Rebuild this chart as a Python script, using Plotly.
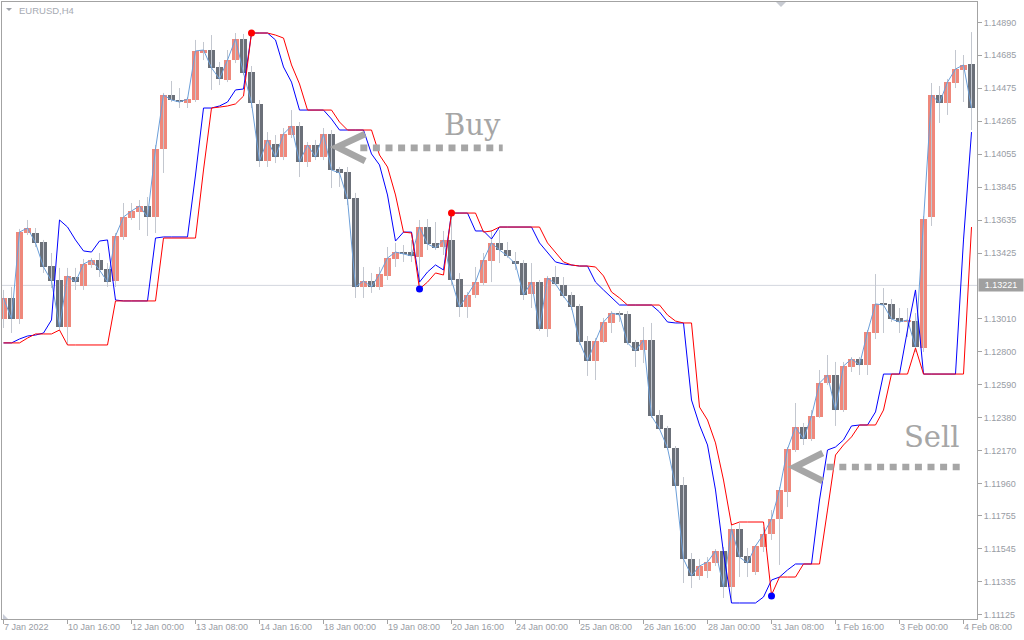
import plotly.graph_objects as go

# ---- EURUSD H4 data ----
TIME_LABELS = ["7 Jan 2022", "10 Jan 16:00", "12 Jan 00:00", "13 Jan 08:00",
               "14 Jan 16:00", "18 Jan 00:00", "19 Jan 08:00", "20 Jan 16:00",
               "24 Jan 00:00", "25 Jan 08:00", "26 Jan 16:00", "28 Jan 00:00",
               "31 Jan 08:00", "1 Feb 16:00", "3 Feb 00:00", "4 Feb 08:00"]
LABEL_BARS = [0, 8, 16, 24, 32, 40, 48, 56, 64, 72, 80, 88, 96, 104, 112, 120]

OPEN = [
    1.13007, 1.13141, 1.13007, 1.13554, 1.13554, 1.13497, 1.13344, 1.13255, 1.12956, 1.13274,
    1.13217, 1.13351, 1.13382, 1.13325, 1.13249, 1.13529, 1.13650, 1.13688, 1.13726, 1.13656,
    1.14088, 1.14432, 1.14400, 1.14381, 1.14400, 1.14699, 1.14718, 1.14610, 1.14527, 1.14654,
    1.14788, 1.14578, 1.14375, 1.14012, 1.14120, 1.14037, 1.14177, 1.14235, 1.14006, 1.14114,
    1.14037, 1.14184, 1.13961, 1.13942, 1.13777, 1.13211, 1.13249, 1.13211, 1.13281, 1.13389,
    1.13433, 1.13433, 1.13401, 1.13592, 1.13491, 1.13465, 1.13510, 1.13262, 1.13083, 1.13160,
    1.13236, 1.13376, 1.13491, 1.13446, 1.13376, 1.13363, 1.13166, 1.13242, 1.12944, 1.13274,
    1.13223, 1.13160, 1.13090, 1.12867, 1.12740, 1.12861, 1.12982, 1.13045, 1.13039, 1.12861,
    1.12810, 1.12874, 1.12397, 1.12314, 1.12187, 1.11951, 1.11481, 1.11373, 1.11404, 1.11455,
    1.11532, 1.11303, 1.11672, 1.11500, 1.11398, 1.11557, 1.11640, 1.11735, 1.11907, 1.12174,
    1.12320, 1.12244, 1.12384, 1.12600, 1.12651, 1.12428, 1.12702, 1.12753, 1.12715, 1.12918,
    1.13109, 1.13103, 1.13014, 1.12988, 1.12994, 1.12823, 1.13656, 1.14432, 1.14381, 1.14508,
    1.14591, 1.14629]
HIGH = [
    1.13192, 1.13211, 1.13580, 1.13637, 1.13586, 1.13510, 1.13427, 1.13332, 1.13332, 1.13332,
    1.13389, 1.13395, 1.13427, 1.13363, 1.13554, 1.13745, 1.13745, 1.13764, 1.13783, 1.14114,
    1.14445, 1.14521, 1.14476, 1.14419, 1.14782, 1.14769, 1.14813, 1.14642, 1.14718, 1.14826,
    1.14820, 1.14616, 1.14400, 1.14196, 1.14177, 1.14222, 1.14336, 1.14260, 1.14133, 1.14146,
    1.14222, 1.14209, 1.13974, 1.13974, 1.13809, 1.13338, 1.13300, 1.13338, 1.13465, 1.13491,
    1.13478, 1.13510, 1.13637, 1.13643, 1.13624, 1.13567, 1.13681, 1.13300, 1.13179, 1.13338,
    1.13427, 1.13573, 1.13573, 1.13497, 1.13433, 1.13382, 1.13363, 1.13255, 1.13281, 1.13344,
    1.13274, 1.13179, 1.13103, 1.12899, 1.12886, 1.13014, 1.13058, 1.13058, 1.13058, 1.12874,
    1.12956, 1.12982, 1.12428, 1.12327, 1.12199, 1.12002, 1.11519, 1.11481, 1.11493, 1.11544,
    1.11557, 1.11710, 1.11710, 1.11551, 1.11570, 1.11684, 1.11792, 1.11939, 1.12193, 1.12473,
    1.12346, 1.12428, 1.12683, 1.12778, 1.12734, 1.12734, 1.12765, 1.12765, 1.12937, 1.13293,
    1.13204, 1.13134, 1.13077, 1.13077, 1.13045, 1.13662, 1.14508, 1.14489, 1.14534, 1.14718,
    1.14686, 1.14832]
LOW = [
    1.12950, 1.12918, 1.12975, 1.13541, 1.13465, 1.13300, 1.13204, 1.12937, 1.12842, 1.13192,
    1.13192, 1.13332, 1.13274, 1.13211, 1.13211, 1.13510, 1.13637, 1.13573, 1.13535, 1.13554,
    1.13936, 1.14387, 1.14349, 1.14349, 1.14387, 1.14654, 1.14464, 1.14495, 1.14514, 1.14635,
    1.14559, 1.14349, 1.13974, 1.13974, 1.13999, 1.14018, 1.14158, 1.13910, 1.13974, 1.14018,
    1.14018, 1.13840, 1.13847, 1.13732, 1.13141, 1.13141, 1.13173, 1.13192, 1.13255, 1.13338,
    1.13370, 1.13370, 1.13198, 1.13446, 1.13446, 1.13414, 1.13223, 1.13020, 1.13014, 1.13141,
    1.13223, 1.13242, 1.13363, 1.13395, 1.13319, 1.13128, 1.13077, 1.12931, 1.12893, 1.13223,
    1.13141, 1.13064, 1.12842, 1.12645, 1.12619, 1.12855, 1.12918, 1.12988, 1.12842, 1.12702,
    1.12727, 1.12378, 1.12301, 1.12174, 1.11932, 1.11328, 1.11296, 1.11347, 1.11360, 1.11436,
    1.11233, 1.11201, 1.11366, 1.11366, 1.11379, 1.11525, 1.11602, 1.11443, 1.11811, 1.12161,
    1.12206, 1.12231, 1.12378, 1.12587, 1.12327, 1.12416, 1.12670, 1.12651, 1.12651, 1.12880,
    1.12918, 1.12988, 1.12918, 1.12893, 1.12797, 1.12797, 1.13599, 1.14254, 1.14305, 1.14476,
    1.14387, 1.14209]
CLOSE = [
    1.13141, 1.13007, 1.13560, 1.13586, 1.13491, 1.13338, 1.13249, 1.12956, 1.13281, 1.13242,
    1.13357, 1.13382, 1.13319, 1.13242, 1.13535, 1.13656, 1.13694, 1.13726, 1.13656, 1.14088,
    1.14432, 1.14400, 1.14387, 1.14406, 1.14712, 1.14718, 1.14604, 1.14534, 1.14654, 1.14788,
    1.14572, 1.14381, 1.14012, 1.14146, 1.14037, 1.14184, 1.14235, 1.14006, 1.14114, 1.14037,
    1.14184, 1.13955, 1.13936, 1.13770, 1.13211, 1.13249, 1.13211, 1.13293, 1.13395, 1.13433,
    1.13421, 1.13408, 1.13592, 1.13484, 1.13459, 1.13510, 1.13255, 1.13083, 1.13160, 1.13242,
    1.13382, 1.13491, 1.13446, 1.13408, 1.13357, 1.13160, 1.13242, 1.12944, 1.13268, 1.13230,
    1.13153, 1.13083, 1.12861, 1.12740, 1.12867, 1.12988, 1.13045, 1.13033, 1.12855, 1.12804,
    1.12874, 1.12390, 1.12308, 1.12187, 1.11945, 1.11481, 1.11373, 1.11436, 1.11462, 1.11532,
    1.11303, 1.11672, 1.11493, 1.11455, 1.11563, 1.11640, 1.11735, 1.11920, 1.12180, 1.12320,
    1.12244, 1.12390, 1.12600, 1.12651, 1.12428, 1.12708, 1.12753, 1.12715, 1.12924, 1.13103,
    1.13096, 1.13007, 1.12988, 1.13001, 1.12829, 1.13643, 1.14432, 1.14381, 1.14514, 1.14597,
    1.14623, 1.14349]

# two trailing channel lines of the indicator
BLUE_LINE = [
    1.12855, 1.12855, 1.12880, 1.12899, 1.12905, 1.12918, 1.13001, 1.13637, 1.13592, 1.13510,
    1.13440, 1.13433, 1.13503, 1.13510, 1.13128, 1.13122, 1.13122, 1.13122, 1.13122, 1.13522,
    1.13529, 1.13529, 1.13529, 1.13529, 1.13923, 1.14349, 1.14349, 1.14362, 1.14387, 1.14464,
    1.14470, 1.14826, 1.14826, 1.14826, 1.14782, 1.14610, 1.14514, 1.14336, 1.14336, 1.14336,
    1.14336, 1.14279, 1.14209, 1.14209, 1.14209, 1.14209, 1.14057, 1.13987, 1.13796, 1.13503,
    1.13560, 1.13560, 1.13242, 1.13306, 1.13351, 1.13319, 1.13681, 1.13681, 1.13681, 1.13567,
    1.13567, 1.13516, 1.13592, 1.13592, 1.13592, 1.13592, 1.13592, 1.13491, 1.13433, 1.13370,
    1.13357, 1.13351, 1.13344, 1.13344, 1.13242, 1.13192, 1.13147, 1.13096, 1.13096, 1.13096,
    1.13096, 1.13096, 1.13052, 1.12988, 1.12982, 1.12982, 1.12492, 1.12333, 1.12206, 1.11920,
    1.11519, 1.11201, 1.11201, 1.11201, 1.11201, 1.11239, 1.11347, 1.11366, 1.11411, 1.11449,
    1.11449, 1.11449, 1.11856, 1.12174, 1.12193, 1.12238, 1.12327, 1.12333, 1.12333, 1.12416,
    1.12657, 1.12657, 1.12657, 1.12937, 1.13192, 1.12657, 1.12657, 1.12657, 1.12657, 1.12657,
    1.13510, 1.14196]
RED_LINE = [
    1.12855, 1.12855, 1.12855, 1.12886, 1.12912, 1.12912, 1.12912, 1.12937, 1.12842, 1.12842,
    1.12842, 1.12842, 1.12842, 1.12842, 1.13122, 1.13122, 1.13122, 1.13122, 1.13122, 1.13122,
    1.13522, 1.13522, 1.13522, 1.13522, 1.13522, 1.13955, 1.14349, 1.14355, 1.14362, 1.14375,
    1.14425, 1.14826, 1.14826, 1.14826, 1.14813, 1.14794, 1.14623, 1.14502, 1.14336, 1.14336,
    1.14336, 1.14336, 1.14260, 1.14209, 1.14209, 1.14209, 1.14209, 1.14050, 1.13974, 1.13796,
    1.13560, 1.13554, 1.13198, 1.13242, 1.13300, 1.13287, 1.13681, 1.13681, 1.13681, 1.13681,
    1.13560, 1.13567, 1.13592, 1.13592, 1.13592, 1.13592, 1.13592, 1.13592, 1.13491, 1.13427,
    1.13370, 1.13351, 1.13344, 1.13344, 1.13338, 1.13281, 1.13179, 1.13141, 1.13096, 1.13096,
    1.13096, 1.13096, 1.13096, 1.13033, 1.12994, 1.12982, 1.12982, 1.12447, 1.12365, 1.12219,
    1.11983, 1.11697, 1.11716, 1.11716, 1.11716, 1.11716, 1.11252, 1.11366, 1.11366, 1.11366,
    1.11449, 1.11449, 1.11449, 1.11792, 1.12142, 1.12206, 1.12257, 1.12333, 1.12333, 1.12333,
    1.12428, 1.12657, 1.12657, 1.12657, 1.12823, 1.12657, 1.12657, 1.12657, 1.12657, 1.12657,
    1.12657, 1.13592]

# signal dots
SELL_DOT_BARS = [31, 56]
SELL_DOT_PRICES = [1.14826, 1.13681]
BUY_DOT_BARS = [52, 96]
BUY_DOT_PRICES = [1.13198, 1.11245]

PRICE_TICKS = [1.14890, 1.14685, 1.14475, 1.14265, 1.14055, 1.13845, 1.13635, 1.13425,
               1.13010, 1.12800, 1.12590, 1.12380, 1.12170, 1.11960, 1.11755, 1.11545,
               1.11335, 1.11125]
CURRENT_PRICE = 1.13221

COLORS = {
    "bull": "#EF887B",
    "bear": "#6B7079",
    "wick": "#C3C7CF",
    "close": "#6C9FD9",
    "blue": "#0000FF",
    "red": "#FF0000",
    "frame": "#A3A3A3",
    "text": "#989CA4",
    "arrow": "#A6A6A6",
}

# plot box in pixels, used to place the small decorations
PLOT_L, PLOT_T, PLOT_W, PLOT_H = 2, 2, 975, 617


def paper(x, y):
    return (x - PLOT_L) / PLOT_W, 1 - (y - PLOT_T) / PLOT_H


bars = list(range(len(OPEN)))
body_base = [min(o, c) for o, c in zip(OPEN, CLOSE)]
body_size = [abs(c - o) for o, c in zip(OPEN, CLOSE)]
body_color = [COLORS["bull"] if c >= o else COLORS["bear"] for o, c in zip(OPEN, CLOSE)]

wick_x, wick_y = [], []
for i, (h, l) in enumerate(zip(HIGH, LOW)):
    wick_x += [i, i, None]
    wick_y += [l, h, None]

fig = go.Figure()
fig.add_trace(go.Scatter(x=wick_x, y=wick_y, mode="lines",
                         line={"color": COLORS["wick"], "width": 1}))
fig.add_trace(go.Bar(x=bars, y=body_size, base=body_base, width=0.86,
                     marker={"color": body_color, "line": {"width": 0}}))
fig.add_trace(go.Scatter(x=bars, y=CLOSE, mode="lines",
                         line={"color": COLORS["close"], "width": 1}))
fig.add_trace(go.Scatter(x=bars, y=BLUE_LINE, mode="lines",
                         line={"color": COLORS["blue"], "width": 1}))
fig.add_trace(go.Scatter(x=bars, y=RED_LINE, mode="lines",
                         line={"color": COLORS["red"], "width": 1}))
fig.add_trace(go.Scatter(x=SELL_DOT_BARS, y=SELL_DOT_PRICES, mode="markers",
                         marker={"color": COLORS["red"], "size": 7}))
fig.add_trace(go.Scatter(x=BUY_DOT_BARS, y=BUY_DOT_PRICES, mode="markers",
                         marker={"color": COLORS["blue"], "size": 7}))

tick_font = {"family": "Liberation Sans", "size": 9, "color": COLORS["text"]}
annotations = []
for b, t in zip(LABEL_BARS, TIME_LABELS):
    annotations.append({"x": b, "xref": "x", "y": 0, "yref": "paper", "text": t,
                        "showarrow": False, "xanchor": "left", "yanchor": "top",
                        "xshift": -2, "yshift": -1, "font": tick_font})

# current price box on the axis
annotations.append({"x": 1, "xref": "paper", "y": CURRENT_PRICE, "yref": "y",
                    "text": f"{CURRENT_PRICE:.5f}", "showarrow": False,
                    "xanchor": "left", "yanchor": "middle", "xshift": 1, "width": 42,
                    "bgcolor": "#A0A0A0", "borderpad": 1,
                    "font": {"family": "Liberation Sans", "size": 9, "color": "white"}})

# symbol caption
cx, cy = paper(17, 10)
annotations.append({"x": cx, "y": cy, "xref": "paper", "yref": "paper", "text": "EURUSD,H4",
                    "showarrow": False, "xanchor": "left", "yanchor": "middle",
                    "font": {"family": "Liberation Sans", "size": 9.5, "color": "#A6AAB2"}})

# Buy / Sell captions
big_font = {"family": "DejaVu Serif", "size": 29, "color": COLORS["arrow"]}
annotations.append({"x": 54.8, "y": 1.14244, "text": "Buy", "showarrow": False,
                    "xanchor": "left", "yanchor": "middle", "font": big_font})
annotations.append({"x": 112.3, "y": 1.12254, "text": "Sell", "showarrow": False,
                    "xanchor": "left", "yanchor": "middle", "font": big_font})

shapes = [
    {"type": "line", "xref": "paper", "x0": 0, "x1": 1, "yref": "y",
     "y0": CURRENT_PRICE, "y1": CURRENT_PRICE, "layer": "below",
     "line": {"color": "#D3D6DE", "width": 1}},
    # Buy arrow
    {"type": "line", "x0": 44.6, "x1": 62.4, "y0": 1.14095, "y1": 1.14095,
     "line": {"color": COLORS["arrow"], "width": 6.7, "dash": "7px,5.6px"}},
    {"type": "path", "path": "M 45.2,1.14184 L 41.7,1.14101 L 45.2,1.14012",
     "line": {"color": COLORS["arrow"], "width": 6.5}},
    # Sell arrow
    {"type": "line", "x0": 102.9, "x1": 119.6, "y0": 1.12066, "y1": 1.12066,
     "line": {"color": COLORS["arrow"], "width": 6.7, "dash": "7px,5.6px"}},
    {"type": "path", "path": "M 102.4,1.12155 L 98.9,1.12066 L 102.4,1.11977",
     "line": {"color": COLORS["arrow"], "width": 6.5}},
]

# small triangles: caption marker, chart shift marker, corner marker
for pts, col in [([(6, 8), (12, 8), (9, 11)], "#9EA2AA"),
                 ([(776, 2), (786, 2), (781, 7)], "#C8CBD2"),
                 ([(3, 614), (3, 619), (8, 619)], "#C8CCD8")]:
    p = [paper(x, y) for x, y in pts]
    shapes.append({"type": "path", "xref": "paper", "yref": "paper",
                   "path": "M {},{} L {},{} L {},{} Z".format(*p[0], *p[1], *p[2]),
                   "fillcolor": col, "line": {"width": 0}})

fig.update_layout(
    width=1024,
    height=640,
    margin={"l": PLOT_L, "r": 1024 - PLOT_L - PLOT_W, "t": PLOT_T, "b": 640 - PLOT_T - PLOT_H, "pad": 0},
    plot_bgcolor="white",
    paper_bgcolor="white",
    showlegend=False,
    hovermode=False,
    bargap=0,
    xaxis={
        "range": [-0.1875, 121.6875],
        "showgrid": False,
        "zeroline": False,
        "showline": True,
        "mirror": True,
        "linecolor": COLORS["frame"],
        "linewidth": 1,
        "tickvals": LABEL_BARS,
        "ticks": "outside",
        "ticklen": 4,
        "tickcolor": COLORS["frame"],
        "showticklabels": False,
    },
    yaxis={
        "range": [1.1109916, 1.1502328],
        "side": "right",
        "showgrid": False,
        "zeroline": False,
        "showline": True,
        "mirror": True,
        "linecolor": COLORS["frame"],
        "linewidth": 1,
        "tickvals": PRICE_TICKS,
        "ticktext": [f"{v:.5f}" for v in PRICE_TICKS],
        "ticks": "outside",
        "ticklen": 4,
        "tickcolor": COLORS["frame"],
        "tickfont": tick_font,
    },
    annotations=annotations,
    shapes=shapes,
)

# the page body has a default 8px margin; drop it so the figure sits at the window origin
fig.write_html("out.html", config={"displayModeBar": False},
               post_script="document.body.style.margin = '0px';")
